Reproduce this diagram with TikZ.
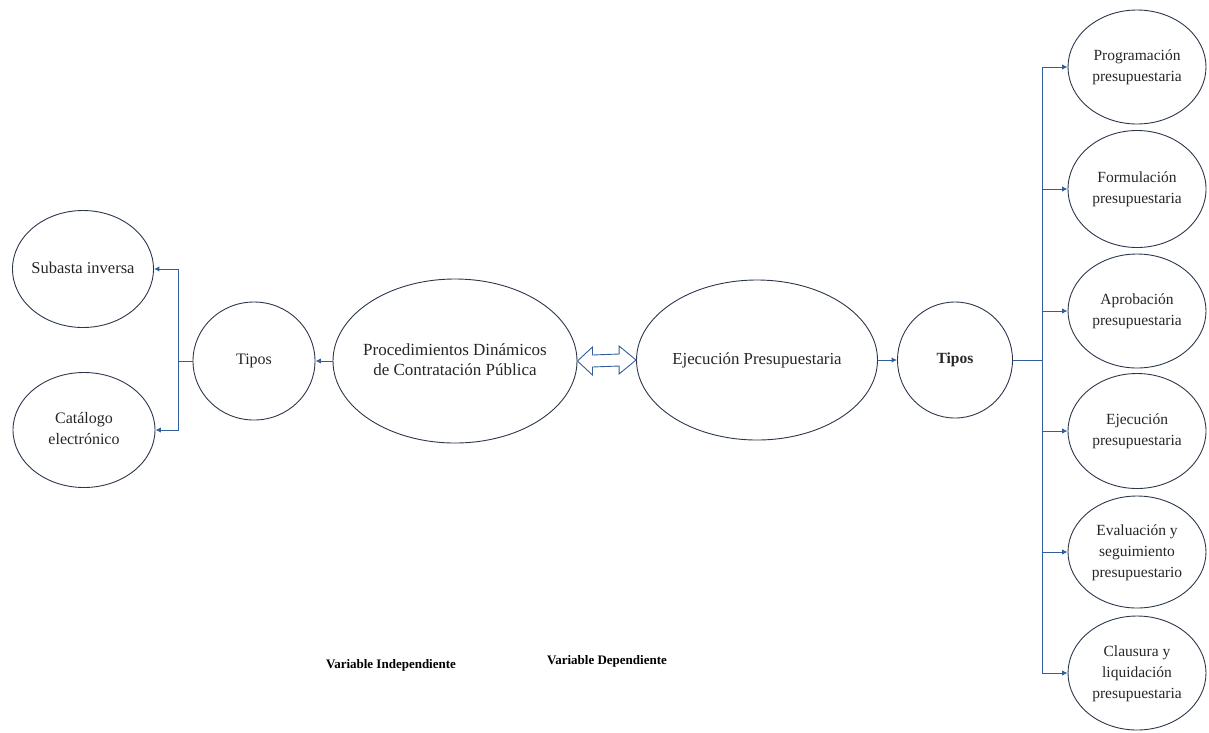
\documentclass[tikz,border=0pt]{standalone}
\usepackage{fontspec}
\setmainfont{Liberation Serif}
\usetikzlibrary{shapes.geometric,arrows.meta,calc}
\definecolor{outl}{RGB}{45,55,75}
\definecolor{conn}{RGB}{50,95,155}
% text block of zero width, so the ellipse keeps its set size
\newcommand{\flatlines}[1]{\makebox[0pt][c]{\begin{tabular}{@{}c@{}}#1\end{tabular}}}
\begin{document}
\begin{tikzpicture}[x=1pt,y=-1pt,
  oval/.style={ellipse,draw=outl,line width=0.9pt,inner sep=0pt,align=center,
    font=\fontsize{15.5}{21}\selectfont,text=black!85},
  link/.style={draw=conn,line width=1pt},
  tip/.style={link,-{Latex[length=5.5pt,width=5.5pt]}},
  caption/.style={font=\fontsize{13}{16}\selectfont\bfseries,text=black}]
\useasboundingbox (0,0) rectangle (1209,732);

% left branch
\node[oval,minimum width=141pt,minimum height=117pt,font=\fontsize{16.5}{21}\selectfont] (sub) at (83,269) {\flatlines{Subasta inversa}};
\node[oval,minimum width=142pt,minimum height=115pt,font=\fontsize{16}{21}\selectfont] (cat) at (84,430) {\flatlines{Catálogo\\electrónico}};
\node[oval,minimum width=122pt,minimum height=118pt,font=\fontsize{16}{21}\selectfont] (tipl) at (254,361) {Tipos};

% central variables
\node[oval,minimum width=244pt,minimum height=164pt,font=\fontsize{17}{20}\selectfont] (proc) at (455,361)
  {\flatlines{Procedimientos Dinámicos\\de Contratación Pública}};
\node[oval,minimum width=241pt,minimum height=160pt,font=\fontsize{16.8}{20}\selectfont] (ejec) at (757,360)
  {\flatlines{Ejecución Presupuestaria}};
\node[oval,minimum width=115pt,minimum height=116pt,font=\fontsize{15.5}{20}\selectfont\bfseries] (tipr) at (955,360) {Tipos};

% right branch
\node[oval,minimum width=138pt,minimum height=114pt] (prog) at (1137,67) {\flatlines{Programación\\presupuestaria}};
\node[oval,minimum width=138pt,minimum height=117pt] (form) at (1137,189) {\flatlines{Formulación\\presupuestaria}};
\node[oval,minimum width=138pt,minimum height=114pt] (apro) at (1137,311) {\flatlines{Aprobación\\presupuestaria}};
\node[oval,minimum width=138pt,minimum height=115pt] (ejp) at (1137,431) {\flatlines{Ejecución\\presupuestaria}};
\node[oval,minimum width=138pt,minimum height=112pt] (eval) at (1137,552) {\flatlines{Evaluación y\\seguimiento\\presupuestario}};
\node[oval,minimum width=138pt,minimum height=114pt] (clau) at (1137,673) {\flatlines{Clausura y\\liquidación\\presupuestaria}};

% captions
\node[caption] (vi) at (391,665) {Variable Independiente};
\node[caption] (vd) at (607,661) {Variable Dependiente};

% junction points of the brackets
\coordinate (jl) at (178,361);
\coordinate (jr) at (1042,360);

% connectors, left side
\draw[tip] (proc.west) -- (tipl.east);
\draw[link] (tipl.west) -- (jl);
\draw[tip] (jl) |- (sub.east);
\draw[tip] (jl) |- (cat.east);

% connectors, right side
\draw[tip] (ejec.east) -- (tipr.west);
\draw[link] (tipr.east) -- (jr);
\foreach \n in {prog,form,apro,ejp,eval,clau}
  \draw[tip] (jr) |- (\n.west);

% hollow double arrow between the two variables
\coordinate (da) at (proc.east);
\coordinate (db) at (ejec.west);
\draw[draw=conn,line width=0.9pt,fill=white,line join=miter]
  (da) -- ($(da)+(15,-14)$) -- ($(da)+(15,-6)$) -- ($(db)+(-17,-6)$) -- ($(db)+(-17,-14)$)
  -- (db) -- ($(db)+(-17,14)$) -- ($(db)+(-17,6)$) -- ($(da)+(15,6)$) -- ($(da)+(15,14)$) -- cycle;
\end{tikzpicture}
\end{document}
